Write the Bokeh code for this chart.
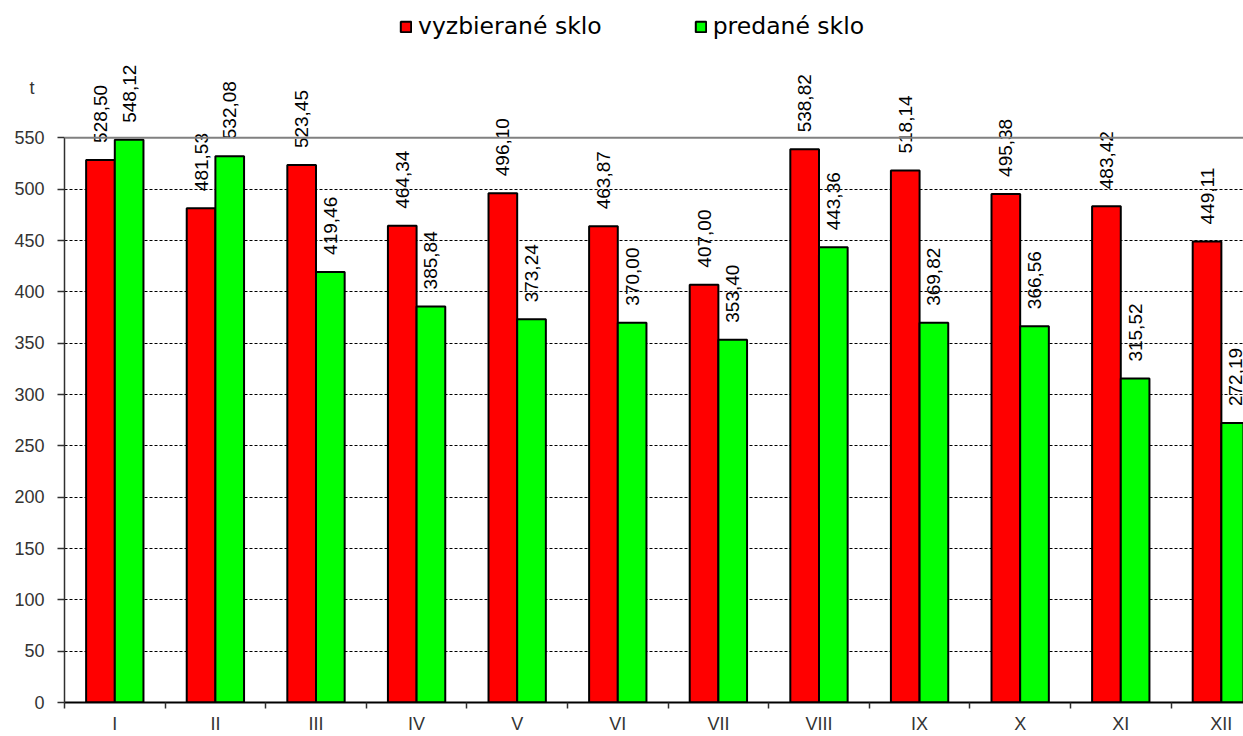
from bokeh.plotting import figure
from bokeh.models import (ColumnDataSource, FixedTicker, Range1d, Span,
                          Legend, LegendItem, LinearAxis)
from bokeh.transform import dodge
from bokeh.embed import file_html
from bokeh.resources import INLINE

# ---- data ----
months = ["I", "II", "III", "IV", "V", "VI", "VII", "VIII", "IX", "X", "XI", "XII"]
collected = [528.50, 481.53, 523.45, 464.34, 496.10, 463.87, 407.00, 538.82, 518.14, 495.38, 483.42, 449.11]
sold = [548.12, 532.08, 419.46, 385.84, 373.24, 370.00, 353.40, 443.36, 369.82, 366.56, 315.52, 272.19]
series_names = ["vyzbierané sklo", "predané sklo"]
y_ticks = [0, 50, 100, 150, 200, 250, 300, 350, 400, 450, 500, 550]
y_unit = "t"

def fmt(v):
    return f"{v:.2f}".replace(".", ",")

pos = list(range(1, len(months) + 1))
src = ColumnDataSource(dict(
    x=pos,
    collected=collected,
    sold=sold,
    lab_c=[fmt(v) for v in collected],
    lab_s=[fmt(v) for v in sold],
))

W, H = 1243, 736
p = figure(width=W, height=H, output_backend="svg", toolbar_location=None,
           x_range=Range1d(0.5, 0.5 + 11.72), y_range=Range1d(0, 683.8),
           min_border_left=64, min_border_right=0, min_border_top=0,
           min_border_bottom=33)
p.outline_line_color = None
p.background_fill_color = "white"
p.border_fill_color = "white"

BW = 0.285
off = 0.1425
r1 = p.vbar(x=dodge("x", -off), top="collected", width=BW, source=src,
            fill_color="#FF0000", line_color="black", line_width=2)
r2 = p.vbar(x=dodge("x", off), top="sold", width=BW, source=src,
            fill_color="#00FF00", line_color="black", line_width=2)

lab_font = "Liberation Sans"
p.text(x=dodge("x", -off), y="collected", text="lab_c", source=src,
       angle=1.5708, text_align="left", text_baseline="middle",
       text_font_size="19px", text_color="black", y_offset=-17,
       text_font={"value": lab_font})
p.text(x=dodge("x", off), y="sold", text="lab_s", source=src,
       angle=1.5708, text_align="left", text_baseline="middle",
       text_font_size="19px", text_color="black", y_offset=-17,
       text_font={"value": lab_font})

# grid
p.xgrid.visible = False
p.ygrid.ticker = FixedTicker(ticks=y_ticks[1:-1])
p.ygrid.grid_line_color = "black"
p.ygrid.grid_line_dash = "3 2"
p.ygrid.grid_line_width = 1
p.add_layout(Span(location=y_ticks[-1], dimension="width",
                  line_color="#808080", line_width=2))

# inner y axis: line + tick marks only (labels blank)
ya = p.yaxis[0]
ya.ticker = FixedTicker(ticks=y_ticks)
ya.bounds = (0, y_ticks[-1])
ya.axis_line_color = "#303030"
ya.axis_line_width = 1.5
ya.major_tick_out = 7
ya.major_tick_in = 0
ya.major_tick_line_color = "#303030"
ya.major_tick_line_width = 1.5
ya.minor_tick_line_color = None
ya.major_label_standoff = 0
ya.major_label_overrides = {t: "" for t in y_ticks}

# outer y axis: tick labels plus the unit label above them
unit_pos = 599
ya2 = LinearAxis(ticker=FixedTicker(ticks=y_ticks + [unit_pos]),
                 major_label_overrides={unit_pos: y_unit + "\u00a0\u00a0"},
                 axis_line_color=None, major_tick_line_color=None,
                 minor_tick_line_color=None, major_tick_out=0, major_tick_in=0,
                 major_label_standoff=13, major_label_text_font=lab_font,
                 major_label_text_font_size="18px",
                 major_label_text_color="#333333")
p.add_layout(ya2, "left")

# x axis
xa = p.xaxis[0]
xa.ticker = FixedTicker(ticks=pos, minor_ticks=[i + 0.5 for i in range(0, len(months) + 1)])
xa.major_label_overrides = {i: m for i, m in zip(pos, months)}
xa.major_tick_line_color = None
xa.major_tick_out = 0
xa.minor_tick_out = 6
xa.minor_tick_in = 0
xa.minor_tick_line_color = "#303030"
xa.minor_tick_line_width = 1.5
xa.axis_line_color = "black"
xa.axis_line_width = 2
xa.major_label_standoff = 5
xa.major_label_text_font = lab_font
xa.major_label_text_font_size = "18px"
xa.major_label_text_color = "#333333"

# legend
legend = Legend(items=[LegendItem(label=series_names[0], renderers=[r1]),
                       LegendItem(label=series_names[1], renderers=[r2])],
                orientation="horizontal", location=(335, 662),
                glyph_width=13, glyph_height=13, label_standoff=6, spacing=92,
                padding=0, margin=0, border_line_color=None,
                background_fill_alpha=0,
                label_text_font="DejaVu Sans", label_text_font_size="23.5px",
                label_text_color="black")
p.add_layout(legend, "center")

open("out.html", "w").write(file_html(p, INLINE))
